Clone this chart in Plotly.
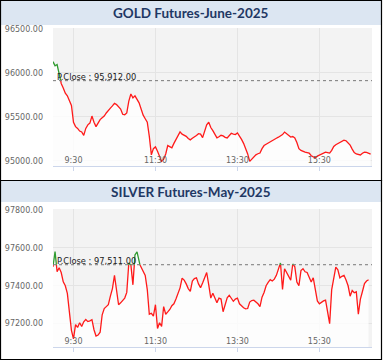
import plotly.graph_objects as go
import pandas as pd

# ---------------- data ----------------
gold_title = "GOLD Futures-June-2025"
silver_title = "SILVER Futures-May-2025"
gold_close = 95912.00
silver_close = 97511.00
x_tick_times = ["09:30", "11:30", "13:30", "15:30"]
x_tick_labels = ["9:30", "11:30", "13:30", "15:30"]
gold_yticks = [95000, 95500, 96000, 96500]
silver_yticks = [97200, 97400, 97600, 97800]

gold_values = [
    96128, 96080, 96095, 96000, 95880, 95830, 95770, 95740, 95690, 95630,
    95440, 95390, 95370, 95340, 95330, 95290, 95370, 95410, 95430, 95510,
    95440, 95390, 95430, 95470, 95490, 95510, 95545, 95580, 95600, 95625,
    95655, 95640, 95620, 95590, 95530, 95525, 95545, 95680, 95760, 95716,
    95740, 95700, 95660, 95590, 95520, 95480, 95440, 95280, 95070, 95140,
    95160, 95110, 95060, 94995, 95020, 95080, 95175, 95160, 95150, 95200,
    95240, 95285, 95330, 95305, 95295, 95280, 95255, 95240, 95258, 95272,
    95290, 95310, 95305, 95265, 95350, 95410, 95440, 95380, 95345, 95300,
    95262, 95275, 95292, 95285, 95268, 95262, 95295, 95315, 95305, 95300,
    95318, 95285, 95245, 95200, 95140, 95080, 94995, 95020, 95055, 95070,
    95082, 95090, 95140, 95175, 95190, 95205, 95220, 95238, 95245, 95258,
    95270, 95285, 95300, 95328, 95310, 95285, 95272, 95278, 95262, 95210,
    95140, 95120, 95108, 95100, 95096, 95090, 95060, 95045, 95035, 95055,
    95066, 95080, 95095, 95100, 95095, 95090, 95120, 95165, 95185, 95200,
    95215, 95222, 95235, 95230, 95205, 95180, 95135, 95095, 95080, 95072,
    95068, 95088, 95100, 95098, 95090, 95078,
]

silver_values = [
    97500, 97580, 97474, 97495, 97470, 97421, 97400, 97360, 97250, 97165,
    97120, 97195, 97180, 97205, 97185, 97210, 97222, 97211, 97215, 97221,
    97168, 97135, 97140, 97155, 97247, 97280, 97290, 97300, 97345, 97385,
    97455, 97380, 97300, 97310, 97320, 97335, 97365, 97520, 97510, 97405,
    97563, 97579, 97520, 97498, 97480, 97455, 97380, 97250, 97255, 97240,
    97300, 97175, 97205, 97185, 97290, 97250, 97262, 97275, 97295, 97305,
    97330, 97360, 97389, 97440, 97430, 97410, 97385, 97370, 97425, 97438,
    97442, 97410, 97390, 97415, 97445, 97470, 97405, 97335, 97360, 97330,
    97311, 97335, 97330, 97263, 97300, 97337, 97350, 97330, 97318, 97330,
    97335, 97305, 97292, 97284, 97278, 97280, 97314, 97322, 97324, 97315,
    97305, 97290, 97340, 97365, 97400, 97418, 97432, 97425, 97435, 97455,
    97490, 97520, 97380, 97490, 97470, 97450, 97430, 97515, 97500, 97420,
    97400, 97480, 97490, 97474, 97470, 97445, 97420, 97442, 97380, 97320,
    97305, 97314, 97320, 97324, 97260, 97200, 97380, 97445, 97498, 97484,
    97442, 97450, 97455, 97430, 97400, 97345, 97375, 97363, 97368, 97250,
    97330, 97370, 97412, 97425, 97432,
]

DAY = "2025-04-30 "
gold_times = pd.date_range(DAY + "09:00", periods=len(gold_values), freq="3min")
silver_times = pd.date_range(DAY + "09:00", periods=len(silver_values), freq="3min")

# ---------------- helpers ----------------
W, H = 383, 362


def px_x(p):
    return p / W


def px_y(p):
    return 1 - p / H


def split_at_close(times, vals, close):
    xs, ys = [], []
    for i in range(len(vals)):
        xs.append(times[i])
        ys.append(vals[i])
        if i + 1 < len(vals):
            a, b = vals[i], vals[i + 1]
            if (a - close) * (b - close) < 0:
                f = (close - a) / (b - a)
                xs.append(times[i] + (times[i + 1] - times[i]) * f)
                ys.append(close)
    red = [y if y <= close else None for y in ys]
    green = [y if y >= close else None for y in ys]
    return xs, red, green


fig = go.Figure()

panels = [
    dict(times=gold_times, vals=gold_values, close=gold_close, xa="x", ya="y",
         yticks=gold_yticks, yrange=[94943, 96510], dom=[px_y(166), px_y(28)]),
    dict(times=silver_times, vals=silver_values, close=silver_close, xa="x2", ya="y2",
         yticks=silver_yticks, yrange=[97077, 97805], dom=[px_y(347), px_y(209)]),
]

xdom = [px_x(53), px_x(372)]
xr = [pd.Timestamp(DAY + "09:00"), pd.Timestamp(DAY + "16:47")]
tickvals = [pd.Timestamp(DAY + t) for t in x_tick_times]

axis_font = dict(family="DejaVu Sans", size=8, color="#666666")

for k, p in enumerate(panels):
    # white area under the line
    fig.add_trace(go.Scatter(x=p["times"], y=p["vals"], mode="lines",
                             line=dict(width=0), fill="tozeroy",
                             fillcolor="rgba(255,255,255,0.8)",
                             xaxis=p["xa"], yaxis=p["ya"], hoverinfo="skip",
                             showlegend=False))
    xs, red, green = split_at_close(p["times"], p["vals"], p["close"])
    fig.add_trace(go.Scatter(x=xs, y=red, mode="lines",
                             line=dict(color="#ff1a1a", width=1.3),
                             xaxis=p["xa"], yaxis=p["ya"], showlegend=False,
                             connectgaps=False))
    fig.add_trace(go.Scatter(x=xs, y=green, mode="lines",
                             line=dict(color="#2f9a2f", width=1.3),
                             xaxis=p["xa"], yaxis=p["ya"], showlegend=False,
                             connectgaps=False))
    sfx = "" if k == 0 else "2"
    fig.update_layout(**{
        "xaxis" + sfx: dict(domain=xdom, type="date", range=xr, tickvals=tickvals,
                            ticktext=x_tick_labels, ticklabelposition="inside",
                            showgrid=True, gridcolor="#e4e4e4", showline=True,
                            linecolor="#ccd6eb", ticks="outside", ticklen=4,
                            tickcolor="#ccd6eb", tickfont=axis_font,
                            automargin=False, ticklabeloverflow="allow",
                            anchor="y" + sfx, fixedrange=True),
        "yaxis" + sfx: dict(domain=p["dom"], range=p["yrange"], tickvals=p["yticks"],
                            tickformat=".2f", showgrid=True, gridcolor="#e4e4e4",
                            zeroline=False, showline=False, tickfont=axis_font,
                            ticklabelstandoff=9, automargin=False,
                            ticklabeloverflow="allow",
                            anchor="x" + sfx, fixedrange=True),
    })
    # previous close dotted line + label
    fig.add_shape(type="line", xref=p["xa"] + " domain", yref=p["ya"],
                  x0=0, x1=1, y0=p["close"], y1=p["close"],
                  line=dict(color="#777777", width=1, dash="dot"))
    fig.add_annotation(xref=p["xa"] + " domain", yref=p["ya"], x=0, y=p["close"],
                       xanchor="left", yanchor="bottom", xshift=2, yshift=-3,
                       showarrow=False,
                       text="P.Close : {:,.2f}".format(p["close"]),
                       font=dict(family="DejaVu Sans", size=8.3, color="#222222"))

# title bars and borders
bars = [(0, 25, gold_title, 13), (181, 202, silver_title, 192)]
for top, bot, title, cy in bars:
    fig.add_shape(type="rect", xref="paper", yref="paper",
                  x0=px_x(1), x1=px_x(381), y0=px_y(bot), y1=px_y(top),
                  fillcolor="#dce6f2", line=dict(width=0), layer="below")
    fig.add_annotation(xref="paper", yref="paper", x=px_x(191), y=px_y(cy),
                       xanchor="center", yanchor="middle", showarrow=False,
                       text="<b>%s</b>" % title,
                       font=dict(family="Lato", size=13.5, color="#1f3864"))

for top, bot in [(0.5, 180.5), (180.5, 359.5)]:
    fig.add_shape(type="rect", xref="paper", yref="paper",
                  x0=px_x(0.5), x1=px_x(381.5), y0=px_y(bot), y1=px_y(top),
                  line=dict(color="#000000", width=1.2))

fig.update_layout(width=W, height=H, margin=dict(l=0, r=0, t=0, b=0),
                  paper_bgcolor="white", plot_bgcolor="#f3f3f3",
                  showlegend=False)

fig.write_html("out.html", config={"displayModeBar": False},
               post_script="document.body.style.margin='0';")
